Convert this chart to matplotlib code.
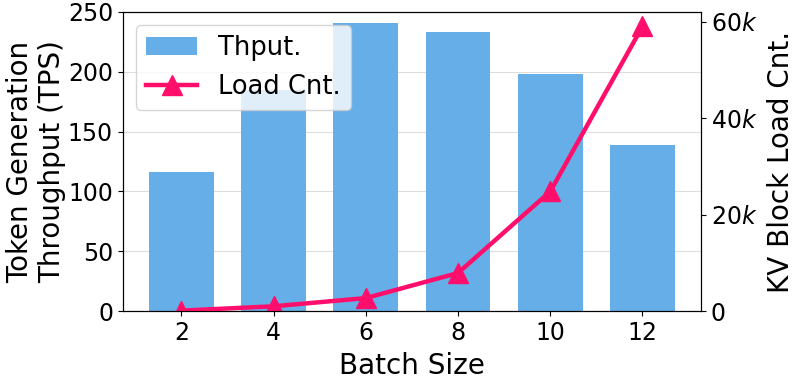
import numpy as np
import matplotlib
matplotlib.use("Agg")
import matplotlib.pyplot as plt

batch_sizes = [2, 4, 6, 8, 10, 12]
throughput = [116, 185, 241, 233, 198, 139]
load_cnt = [100, 1000, 2700, 7900, 24800, 59000]

fig, ax = plt.subplots(figsize=(7.97, 3.86), dpi=100)
fig.subplots_adjust(left=0.154, right=0.8796, top=0.969, bottom=0.194)

ax.bar(batch_sizes, throughput, width=1.4, color="#66aee8", label="Thput.", zorder=2)
ax.set_ylim(0, 250)
ax.set_xticks(batch_sizes)
ax.set_yticks([0, 50, 100, 150, 200, 250])
ax.grid(axis="y", color="#dddddd", linewidth=0.8, zorder=0)
ax.tick_params(labelsize=17)
ax.set_xlabel("Batch Size", fontsize=20, labelpad=5)
ax.set_ylabel("Token Generation\nThroughput (TPS)", fontsize=20, labelpad=1)

ax2 = ax.twinx()
line, = ax2.plot(batch_sizes, load_cnt, color="#ff0f6b", linewidth=3.2, marker="^",
                 markersize=14, label="Load Cnt.")
ax2.set_ylim(0, 62000)
ax2.set_yticks([0, 20000, 40000, 60000])
ax2.set_yticklabels(["0", "20$k$", "40$k$", "60$k$"])
ax2.tick_params(labelsize=17)
ax2.set_ylabel("KV Block Load Cnt.", fontsize=20, labelpad=7)

h1, l1 = ax.get_legend_handles_labels()
ax2.legend(h1 + [line], l1 + ["Load Cnt."], loc="upper left", fontsize=18.5,
           framealpha=0.8)

fig.savefig("out.png")
